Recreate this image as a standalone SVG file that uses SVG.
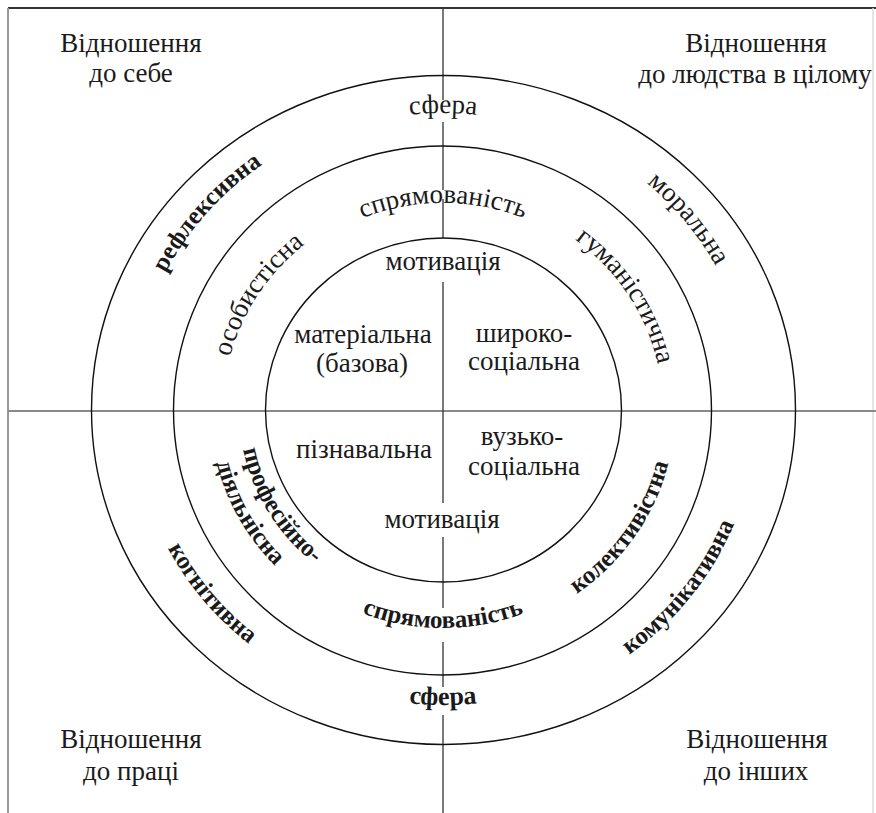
<svg xmlns="http://www.w3.org/2000/svg" width="876" height="813" viewBox="0 0 876 813" font-family="Liberation Serif, serif" font-size="27">
<style>
text{fill:#1a1a1a}
.c{text-anchor:middle}
.b{font-weight:bold;font-size:25px}
.b26{font-weight:bold;font-size:26px}
.ring{fill:none;stroke:#111;stroke-width:1.4}
.ax{stroke:#333;stroke-width:1.3;fill:none}
</style>
<defs>
<path id="p-sfera-t" d="M 289,152.8 A 308 297 0 0 1 597,152.8"/>
<path id="p-spr-t" d="M 305.4,251.4 A 214 207 0 0 1 580.6,251.4"/>
<path id="p-refl" d="M 131,407.4 A 312 301 0 0 1 391.5,113.1"/>
<path id="p-osob" d="M 224.9,437.8 A 220 213 0 0 1 376.8,206.9"/>
<path id="p-gum" d="M 509.2,206.9 A 220 213 0 0 1 661.1,437.8"/>
<path id="p-mor" d="M 505,116 A 311 300 0 0 1 753.9,417.9"/>
<path id="p-spr-b" d="M 299,577 A 224 218 0 0 0 587,577"/>
<path id="p-sfera-b" d="M 290.5,665.5 A 305 295 0 0 0 595.5,665.5"/>
<path id="p-kogn" d="M 133,404.8 A 310 300 0 0 0 383.8,704.5"/>
<path id="p-prof" d="M 241.5,379 A 204 198 0 0 0 376.6,597.2"/>
<path id="p-diyal" d="M 214.7,365.1 A 233 225 0 0 0 357.6,619.3"/>
<path id="p-kolekt" d="M 506.9,626.3 A 232 225 0 0 0 673.7,386.5"/>
<path id="p-komun" d="M 511,706.8 A 314 304 0 0 0 756.7,396.7"/>
</defs>
<rect width="876" height="813" fill="#fff"/>
<g id="frame">
<path d="M 8,8 H 876" stroke="#333" stroke-width="2"/>
<path d="M 8,8 V 813" stroke="#999" stroke-width="2"/>
<path d="M 873,8 V 813" stroke="#ddd" stroke-width="1.5"/>
</g>
<g id="connectors">
<path d="M 8,411 H 876" stroke="#8a8a8a" stroke-width="2.2"/>
<path class="ax" d="M 443,8 V 100 M 443,122 V 190 M 443,199 V 238 M 443,282 V 503 M 443,537 V 608 M 443,642 V 687 M 443,715 V 813"/>
</g>
<g id="rings">
<ellipse id="outer" class="ring" cx="443.5" cy="410" rx="352" ry="334.5"/>
<ellipse id="middle" class="ring" cx="442.5" cy="410.5" rx="269" ry="264.5"/>
<ellipse id="inner" class="ring" cx="443.5" cy="410" rx="178" ry="172"/>
</g>
<g id="q-self">
<text class="c" x="131" y="52">Відношення</text>
<text class="c" x="131" y="82">до себе</text>
</g>
<g id="q-humanity">
<text class="c" x="756" y="52">Відношення</text>
<text class="c" x="755" y="83">до людства в цілому</text>
</g>
<g id="q-work">
<text class="c" x="131" y="748">Відношення</text>
<text class="c" x="131" y="780">до праці</text>
</g>
<g id="q-others">
<text class="c" x="757" y="748">Відношення</text>
<text class="c" x="756" y="780">до інших</text>
</g>
<g id="outer-ring-labels">
<text class="c"><textPath href="#p-sfera-t" startOffset="50%">сфера</textPath></text>
<text class="b"><textPath href="#p-refl" startOffset="50%" text-anchor="middle">рефлексивна</textPath></text>
<text><textPath href="#p-mor" startOffset="50%" text-anchor="middle">моральна</textPath></text>
<text class="b26"><textPath href="#p-sfera-b" startOffset="50%" text-anchor="middle">сфера</textPath></text>
<text class="b"><textPath href="#p-kogn" startOffset="50%" text-anchor="middle">когнітивна</textPath></text>
<text class="b"><textPath href="#p-komun" startOffset="50%" text-anchor="middle">комунікативна</textPath></text>
</g>
<g id="middle-ring-labels">
<text><textPath href="#p-spr-t" startOffset="50%" text-anchor="middle">спрямованість</textPath></text>
<text><textPath href="#p-osob" startOffset="50%" text-anchor="middle">особистісна</textPath></text>
<text><textPath href="#p-gum" startOffset="50%" text-anchor="middle">гуманістична</textPath></text>
<text class="b"><textPath href="#p-spr-b" startOffset="50%" text-anchor="middle">спрямованість</textPath></text>
<text class="b"><textPath href="#p-prof" startOffset="50%" text-anchor="middle">професійно-</textPath></text>
<text class="b"><textPath href="#p-diyal" startOffset="50%" text-anchor="middle">діяльнісна</textPath></text>
<text class="b"><textPath href="#p-kolekt" startOffset="50%" text-anchor="middle">колективістна</textPath></text>
</g>
<g id="inner-labels">
<text class="c" x="443" y="270">мотивація</text>
<text class="c" x="363" y="343">матеріальна</text>
<text class="c" x="362" y="372">(базова)</text>
<text class="c" x="524" y="342">широко-</text>
<text class="c" x="524" y="370">соціальна</text>
<text class="c" x="364" y="458">пізнавальна</text>
<text class="c" x="522" y="445">вузько-</text>
<text class="c" x="524" y="475">соціальна</text>
<text class="c" x="442" y="528">мотивація</text>
</g>
</svg>
